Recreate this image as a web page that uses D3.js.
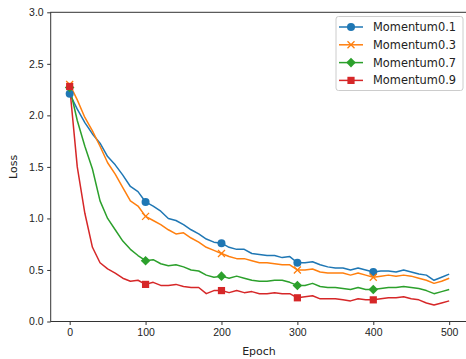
<!DOCTYPE html>
<html lang="en">
<head>
<meta charset="UTF-8">
<title>Loss vs Epoch</title>
<script src="https://d3js.org/d3.v7.min.js"></script>
<style>
    body { margin: 0; background: #fff; }
    svg { display: block; font-family: "DejaVu Sans", sans-serif; }
    .tick text { font-size: 10.5px; fill: #222; }
    .legend text { font-size: 11.4px; fill: #222; }
</style>
</head>
<body>
<svg width="466" height="359"></svg>
<script>
    // epochs sampled every 10
    const epochs = d3.range(0, 501, 10);

    const mom01 = [2.21, 2.06, 1.93, 1.82, 1.73, 1.60, 1.52, 1.42, 1.31, 1.26,
        1.16, 1.12, 1.07, 1.00, 0.98, 0.94, 0.89, 0.85, 0.80, 0.77,
        0.76, 0.72, 0.70, 0.70, 0.66, 0.65, 0.64, 0.64, 0.62, 0.63,
        0.57, 0.57, 0.58, 0.55, 0.53, 0.52, 0.52, 0.50, 0.52, 0.50,
        0.48, 0.49, 0.49, 0.48, 0.50, 0.48, 0.46, 0.45, 0.40, 0.43, 0.46];
    const mom03 = [2.30, 2.15, 1.98, 1.85, 1.70, 1.54, 1.43, 1.30, 1.17, 1.12,
        1.02, 0.98, 0.94, 0.89, 0.85, 0.86, 0.81, 0.77, 0.72, 0.69,
        0.66, 0.63, 0.61, 0.61, 0.59, 0.57, 0.57, 0.56, 0.55, 0.55,
        0.50, 0.50, 0.51, 0.48, 0.47, 0.47, 0.47, 0.45, 0.47, 0.45,
        0.43, 0.44, 0.45, 0.44, 0.45, 0.44, 0.42, 0.40, 0.37, 0.39, 0.42];
    const mom07 = [2.27, 1.95, 1.70, 1.48, 1.17, 1.00, 0.89, 0.78, 0.70, 0.64,
        0.59, 0.60, 0.56, 0.54, 0.55, 0.53, 0.50, 0.49, 0.45, 0.43,
        0.44, 0.42, 0.44, 0.42, 0.40, 0.39, 0.39, 0.40, 0.40, 0.38,
        0.35, 0.35, 0.37, 0.34, 0.33, 0.33, 0.32, 0.31, 0.33, 0.31,
        0.31, 0.32, 0.33, 0.33, 0.34, 0.33, 0.32, 0.30, 0.27, 0.29, 0.31];
    const mom09 = [2.28, 1.50, 1.05, 0.72, 0.57, 0.51, 0.47, 0.42, 0.39, 0.40,
        0.36, 0.38, 0.35, 0.35, 0.36, 0.34, 0.33, 0.33, 0.27, 0.30,
        0.30, 0.28, 0.30, 0.28, 0.29, 0.27, 0.27, 0.28, 0.27, 0.27,
        0.23, 0.24, 0.25, 0.22, 0.22, 0.22, 0.21, 0.20, 0.22, 0.21,
        0.21, 0.22, 0.23, 0.23, 0.24, 0.22, 0.21, 0.18, 0.16, 0.18, 0.20];

    const seriesNames = ["Momentum0.1", "Momentum0.3", "Momentum0.7", "Momentum0.9"];
    const seriesColors = ["#1f77b4", "#ff7f0e", "#2ca02c", "#d62728"];
    const seriesMarkers = ["circle", "cross", "diamond", "square"];
    const markerEpochs = [0, 100, 200, 300, 400];
    const xTicks = [0, 100, 200, 300, 400, 500];
    const yTicks = [0.0, 0.5, 1.0, 1.5, 2.0, 2.5, 3.0];

    const allSeries = [mom01, mom03, mom07, mom09];

    const svg = d3.select("svg");
    const plotL = 50.7, plotR = 467.4, plotT = 12.3, plotB = 321.5;

    const x = d3.scaleLinear().domain([-25, 524]).range([plotL, plotR]);
    const y = d3.scaleLinear().domain([0, 3]).range([plotB, plotT]);

    // frame
    svg.append("rect")
        .attr("x", plotL).attr("y", plotT)
        .attr("width", plotR - plotL).attr("height", plotB - plotT)
        .attr("fill", "none").attr("stroke", "#333").attr("stroke-width", 1);

    const xAxis = svg.append("g")
        .attr("transform", `translate(0,${plotB})`)
        .call(d3.axisBottom(x).tickValues(xTicks).tickSize(3.5).tickPadding(3.5));
    const yAxis = svg.append("g")
        .attr("transform", `translate(${plotL},0)`)
        .call(d3.axisLeft(y).tickValues(yTicks).tickFormat(d3.format(".1f")).tickSize(3.5).tickPadding(3.5));
    [xAxis, yAxis].forEach(a => {
        a.select(".domain").remove();
        a.selectAll(".tick line").attr("stroke", "#333");
    });

    svg.append("text")
        .attr("x", 259).attr("y", 355)
        .attr("text-anchor", "middle")
        .style("font-size", "11px").attr("fill", "#222")
        .text("Epoch");
    svg.append("text")
        .attr("transform", `translate(17,${(plotT + plotB) / 2}) rotate(-90)`)
        .attr("text-anchor", "middle")
        .style("font-size", "11px").attr("fill", "#222")
        .text("Loss");

    const line = d3.line()
        .x((d, i) => x(epochs[i]))
        .y(d => y(d));

    function drawMarker(g, type, color, cx, cy) {
        if (type === "circle") {
            g.append("circle").attr("cx", cx).attr("cy", cy).attr("r", 4).attr("fill", color);
        } else if (type === "cross") {
            const s = 3.5;
            g.append("path")
                .attr("d", `M${cx - s},${cy - s}L${cx + s},${cy + s}M${cx - s},${cy + s}L${cx + s},${cy - s}`)
                .attr("stroke", color).attr("stroke-width", 1.3).attr("fill", "none");
        } else if (type === "diamond") {
            const s = 4.8;
            g.append("path")
                .attr("d", `M${cx},${cy - s}L${cx + s},${cy}L${cx},${cy + s}L${cx - s},${cy}Z`)
                .attr("fill", color);
        } else {
            const s = 3.6;
            g.append("rect").attr("x", cx - s).attr("y", cy - s)
                .attr("width", 2 * s).attr("height", 2 * s).attr("fill", color);
        }
    }

    const plot = svg.append("g");
    allSeries.forEach((vals, k) => {
        plot.append("path")
            .datum(vals)
            .attr("d", line)
            .attr("fill", "none")
            .attr("stroke", seriesColors[k])
            .attr("stroke-width", 1.5)
            .attr("stroke-linejoin", "round");
    });
    allSeries.forEach((vals, k) => {
        markerEpochs.forEach(e => {
            const i = epochs.indexOf(e);
            drawMarker(plot, seriesMarkers[k], seriesColors[k], x(e), y(vals[i]));
        });
    });

    // legend
    const lg = svg.append("g").attr("class", "legend");
    lg.append("rect")
        .attr("x", 336).attr("y", 16.5).attr("width", 127).attr("height", 74)
        .attr("rx", 2.5)
        .attr("fill", "#fff").attr("fill-opacity", 0.8)
        .attr("stroke", "#ccc").attr("stroke-width", 1);
    seriesNames.forEach((name, k) => {
        const ly = 27 + k * 17.8;
        lg.append("line")
            .attr("x1", 339).attr("x2", 363).attr("y1", ly).attr("y2", ly)
            .attr("stroke", seriesColors[k]).attr("stroke-width", 1.5);
        drawMarker(lg, seriesMarkers[k], seriesColors[k], 351, ly);
        lg.append("text")
            .attr("x", 373).attr("y", ly).attr("dy", "0.35em")
            .text(name);
    });
</script>
</body>
</html>
